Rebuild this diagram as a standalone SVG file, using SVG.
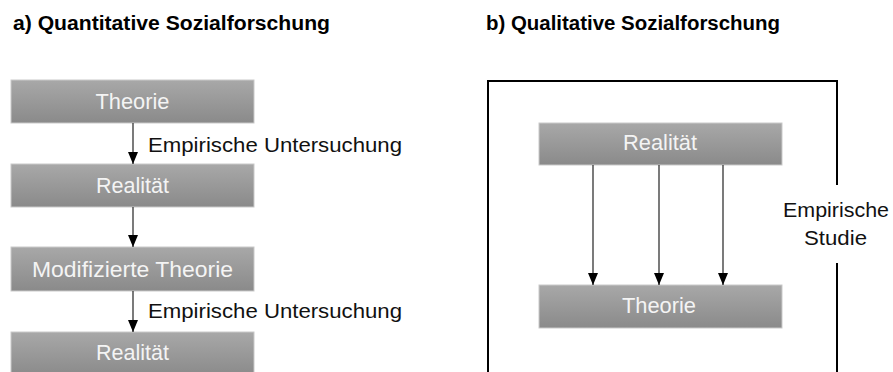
<svg xmlns="http://www.w3.org/2000/svg" width="893" height="372" viewBox="0 0 893 372">
  <defs>
    <linearGradient id="boxFill" x1="0" y1="0" x2="0" y2="1">
      <stop offset="0" stop-color="#a8a8a8"/>
      <stop offset="1" stop-color="#8a8a8a"/>
    </linearGradient>
    <!-- filled triangular arrowhead, drawn along +x so orient="auto" points it down the line -->
    <marker id="arrow" viewBox="0 0 12 10" refX="12" refY="5" markerWidth="12" markerHeight="10" markerUnits="userSpaceOnUse" orient="auto">
      <path d="M0,0 L12,5 L0,10 Z" fill="#000"/>
    </marker>
  </defs>
  <style>
    .box { fill: url(#boxFill); stroke: #c9c9c9; stroke-width: 1; }
    .boxtext { font-family: "Liberation Sans", Arial, sans-serif; font-size: 22px; fill: #f4f4f4; text-anchor: middle; }
    .label { font-family: "Liberation Sans", Arial, sans-serif; font-size: 21px; fill: #111; }
    .title { font-family: "Liberation Sans", Arial, sans-serif; font-size: 20px; font-weight: bold; fill: #000; }
    .conn { stroke: #222; stroke-width: 1.2; fill: none; }
    .frame { stroke: #000; stroke-width: 2; fill: none; }
  </style>
  <rect width="893" height="372" fill="#fff"/>

  <!-- headings -->
  <text class="title" x="13" y="30" textLength="317" lengthAdjust="spacingAndGlyphs">a) Quantitative Sozialforschung</text>
  <text class="title" x="486" y="30" textLength="294" lengthAdjust="spacingAndGlyphs">b) Qualitative Sozialforschung</text>

  <!-- panel a: nodes -->
  <g id="a-theorie">
    <rect class="box" x="11" y="80" width="243" height="43"/>
    <text class="boxtext" x="132.5" y="109" textLength="74" lengthAdjust="spacingAndGlyphs">Theorie</text>
  </g>
  <g id="a-realitaet-1">
    <rect class="box" x="11" y="164" width="243" height="43"/>
    <text class="boxtext" x="132.5" y="193" textLength="73" lengthAdjust="spacingAndGlyphs">Realität</text>
  </g>
  <g id="a-modifizierte-theorie">
    <rect class="box" x="11" y="247" width="243" height="44"/>
    <text class="boxtext" x="132.5" y="277" textLength="201" lengthAdjust="spacingAndGlyphs">Modifizierte Theorie</text>
  </g>
  <g id="a-realitaet-2">
    <rect class="box" x="11" y="332" width="243" height="44"/>
    <text class="boxtext" x="132.5" y="360" textLength="73" lengthAdjust="spacingAndGlyphs">Realität</text>
  </g>

  <!-- panel b: study frame and nodes -->
  <g id="b-studie">
    <path class="frame" d="M488,380 L488,81 L837,81 L837,185 M837,263 L837,380"/>
    <text class="label" text-anchor="middle" x="836" y="217" textLength="106" lengthAdjust="spacingAndGlyphs">Empirische</text>
    <text class="label" text-anchor="middle" x="835.5" y="245" textLength="63" lengthAdjust="spacingAndGlyphs">Studie</text>
  </g>
  <g id="b-realitaet">
    <rect class="box" x="539" y="123" width="243" height="42"/>
    <text class="boxtext" x="660" y="150" textLength="74" lengthAdjust="spacingAndGlyphs">Realität</text>
  </g>
  <g id="b-theorie">
    <rect class="box" x="539" y="285" width="243" height="43"/>
    <text class="boxtext" x="659" y="313" textLength="74" lengthAdjust="spacingAndGlyphs">Theorie</text>
  </g>

  <!-- connectors -->
  <g id="connectors">
    <line class="conn" x1="133" y1="123" x2="133" y2="164" marker-end="url(#arrow)"/>
    <line class="conn" x1="133" y1="207" x2="133" y2="247" marker-end="url(#arrow)"/>
    <line class="conn" x1="133" y1="291" x2="133" y2="332" marker-end="url(#arrow)"/>
    <line class="conn" x1="593" y1="165" x2="593" y2="285" marker-end="url(#arrow)"/>
    <line class="conn" x1="659" y1="165" x2="659" y2="285" marker-end="url(#arrow)"/>
    <line class="conn" x1="723" y1="165" x2="723" y2="285" marker-end="url(#arrow)"/>
    <text class="label" x="148" y="152" textLength="254" lengthAdjust="spacingAndGlyphs">Empirische Untersuchung</text>
    <text class="label" x="148" y="318" textLength="254" lengthAdjust="spacingAndGlyphs">Empirische Untersuchung</text>
  </g>
</svg>
